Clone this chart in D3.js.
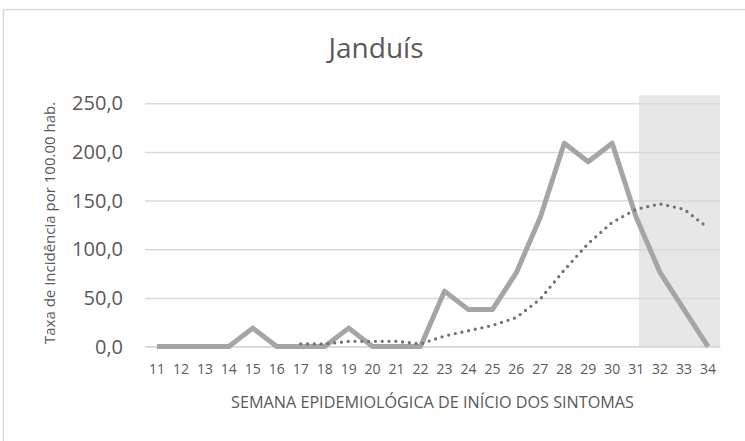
<!DOCTYPE html>
<html>
<head>
<meta charset="utf-8">
<script src="https://cdn.jsdelivr.net/npm/d3@7"></script>
<style>
  html, body { margin: 0; padding: 0; background: #fff; }
  svg { display: block; }
  text { font-family: "Open Sans", sans-serif; fill: #595959; }
</style>
</head>
<body>
<svg id="chart" width="745" height="441"></svg>
<script>
// Epidemiological weeks shown on the category axis
const weeks = [11, 12, 13, 14, 15, 16, 17, 18, 19, 20, 21, 22, 23, 24, 25, 26, 27, 28, 29, 30, 31, 32, 33, 34];

// Incidence rate per 100,000 inhabitants, by week of symptom onset
const incidence = [0, 0, 0, 0, 19.0, 0, 0, 0, 19.0, 0, 0, 0, 57.0, 38.0, 38.0, 76.0, 133.0, 209.0, 190.0, 209.0, 133.0, 76.0, 38.0, 0];

// 7-week moving average trend (first value available from week 17)
const trendWeeks = [17, 18, 19, 20, 21, 22, 23, 24, 25, 26, 27, 28, 29, 30, 31, 32, 33, 34];
const trend = [2.7, 2.7, 5.4, 5.4, 5.4, 2.7, 10.9, 16.3, 21.7, 29.9, 48.9, 78.7, 105.9, 127.6, 141.1, 146.6, 141.1, 122.1];

// Y axis ticks
const yTicks = [0, 50, 100, 150, 200, 250];

// Highlighted period (weeks still open to reporting)
const shadeFrom = [31.12];
const shadeTo = [34.5];
const shadeTop = [258.3];

const title = "Janduís";
const xTitle = "SEMANA EPIDEMIOLÓGICA DE INÍCIO DOS SINTOMAS";
const yTitle = "Taxa de Incidência por 100.00 hab.";

const svg = d3.select("#chart");
const plot = { left: 145, right: 720, top: 103.3, bottom: 346.6 };

// Chart frame
svg.append("rect")
  .attr("x", 3.5).attr("y", 9.5)
  .attr("width", 800).attr("height", 500)
  .attr("fill", "#fff")
  .attr("stroke", "#d9d9d9")
  .attr("stroke-width", 1.5);

const x = d3.scaleLinear()
  .domain([weeks[0] - 0.5, weeks[weeks.length - 1] + 0.5])
  .range([plot.left, plot.right]);

const xBand = d3.scaleBand()
  .domain(weeks)
  .range([plot.left, plot.right]);

const y = d3.scaleLinear()
  .domain([0, 250])
  .range([plot.bottom, plot.top]);

// Shaded period
svg.append("g").selectAll("rect")
  .data(shadeFrom.map((f, i) => ({ from: f, to: shadeTo[i], top: shadeTop[i] })))
  .join("rect")
  .attr("x", d => x(d.from))
  .attr("width", d => x(d.to) - x(d.from))
  .attr("y", d => y(d.top))
  .attr("height", d => y(0) - y(d.top))
  .attr("fill", "#e7e7e7");

// Y axis with horizontal gridlines
const fmt = d3.format(".1f");
const yAxis = svg.append("g")
  .attr("transform", `translate(${plot.left},0)`)
  .call(d3.axisLeft(y)
    .tickValues(yTicks)
    .tickSize(-(plot.right - plot.left))
    .tickPadding(22)
    .tickFormat(d => fmt(d).replace(".", ",")));
yAxis.select(".domain").remove();
yAxis.selectAll(".tick line")
  .attr("stroke", "#d9d9d9")
  .attr("stroke-width", 1.5);
yAxis.selectAll(".tick text")
  .attr("fill", "#595959")
  .style("font-size", "20px");

// X axis
const xAxis = svg.append("g")
  .attr("transform", `translate(0,${plot.bottom})`)
  .call(d3.axisBottom(xBand).tickSize(0).tickPadding(17));
xAxis.select(".domain")
  .attr("stroke", "#d9d9d9")
  .attr("stroke-width", 1.5);
xAxis.selectAll(".tick text")
  .attr("fill", "#595959")
  .style("font-size", "14px");

const cx = w => xBand(w) + xBand.bandwidth() / 2;

// Weekly incidence line
svg.append("path")
  .datum(weeks.map((w, i) => [w, incidence[i]]))
  .attr("fill", "none")
  .attr("stroke", "#a5a5a5")
  .attr("stroke-width", 5)
  .attr("stroke-linejoin", "round")
  .attr("d", d3.line().x(d => cx(d[0])).y(d => y(d[1])));

// Moving-average trend (round dots)
svg.append("path")
  .datum(trendWeeks.map((w, i) => [w, trend[i]]))
  .attr("fill", "none")
  .attr("stroke", "#737373")
  .attr("stroke-width", 3.3)
  .attr("stroke-linecap", "round")
  .attr("stroke-dasharray", "0 6.8")
  .attr("d", d3.line().x(d => cx(d[0])).y(d => y(d[1])));

// Titles
svg.append("text")
  .attr("x", 376).attr("y", 58)
  .attr("text-anchor", "middle")
  .style("font-size", "28px")
  .text(title);

svg.append("text")
  .attr("x", (plot.left + plot.right) / 2).attr("y", 408)
  .attr("text-anchor", "middle")
  .style("font-size", "16.2px")
  .text(xTitle);

svg.append("text")
  .attr("transform", `translate(55,${(plot.top + plot.bottom) / 2 - 2}) rotate(-90)`)
  .attr("text-anchor", "middle")
  .style("font-size", "15px")
  .text(yTitle);
</script>
</body>
</html>
